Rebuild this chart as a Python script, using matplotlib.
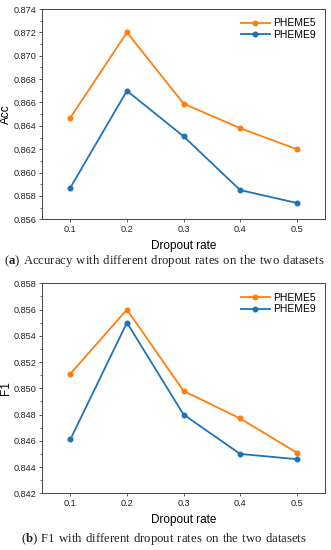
import matplotlib
matplotlib.use("Agg")
import matplotlib.pyplot as plt
from matplotlib.ticker import MultipleLocator, FormatStrFormatter

dropout = [0.1, 0.2, 0.3, 0.4, 0.5]
acc_pheme5 = [0.8647, 0.8720, 0.8659, 0.8638, 0.8620]
acc_pheme9 = [0.8587, 0.8670, 0.8631, 0.8585, 0.8574]
f1_pheme5 = [0.8511, 0.8560, 0.8498, 0.8477, 0.8451]
f1_pheme9 = [0.8461, 0.8550, 0.8480, 0.8450, 0.8446]
series_names = ["PHEME5", "PHEME9"]
captions = ["Accuracy with different dropout rates on the two datasets",
            "F1 with different dropout rates on the two datasets"]
cap_letters = ["a", "b"]

orange = "#FF7F0E"
blue = "#1F73B6"

plt.rcParams['font.family'] = ['Liberation Sans', 'DejaVu Sans']
plt.rcParams['mathtext.fontset'] = 'custom'
plt.rcParams['mathtext.bf'] = 'Liberation Serif:bold'
plt.rcParams['mathtext.rm'] = 'Liberation Serif'

fig = plt.figure(figsize=(3.31, 5.5), dpi=100)
ax1 = fig.add_axes([0.127, 0.6013, 0.855, 0.3823])
ax2 = fig.add_axes([0.127, 0.1031, 0.855, 0.3818])

def style(ax, ylim, ylabel):
    ax.set_xlim(0.05, 0.55)
    ax.set_ylim(*ylim)
    ax.set_xticks(dropout)
    ax.set_xticklabels([f"{d:.1f}" for d in dropout])
    ax.yaxis.set_major_locator(MultipleLocator(0.002))
    ax.yaxis.set_minor_locator(MultipleLocator(0.001))
    ax.yaxis.set_major_formatter(FormatStrFormatter('%.3f'))
    ax.tick_params(axis='both', which='major', labelsize=6.6, direction='out', length=2.5,
                   width=0.6, colors='#444444', labelcolor='#222222', pad=1.8)
    ax.tick_params(axis='y', which='minor', direction='out', length=1.6, width=0.6, colors='#444444')
    for s in ax.spines.values():
        s.set_linewidth(0.7)
        s.set_color('#444444')
    ax.set_xlabel("Dropout rate", fontsize=8.5)
    ax.xaxis.set_label_coords(0.5, -0.100)
    ax.set_ylabel(ylabel, fontsize=8.5)
    ax.yaxis.set_label_coords(-0.107, 0.5)
    ax.legend(frameon=False, fontsize=7.5, loc='upper right', handlelength=2.8,
              borderaxespad=0.5, labelspacing=0.15, handletextpad=0.3)

ax1.plot(dropout, acc_pheme5, color=orange, marker='o', ms=3.3, lw=1.3, label=series_names[0])
ax1.plot(dropout, acc_pheme9, color=blue, marker='o', ms=3.3, lw=1.3, label=series_names[1])
style(ax1, (0.856, 0.874), "Acc")

ax2.plot(dropout, f1_pheme5, color=orange, marker='o', ms=3.3, lw=1.3, label=series_names[0])
ax2.plot(dropout, f1_pheme9, color=blue, marker='o', ms=3.3, lw=1.3, label=series_names[1])
style(ax2, (0.842, 0.858), "F1")

for y, letter, cap in [(1 - 261/550, cap_letters[0], captions[0]), (1 - 539/550, cap_letters[1], captions[1])]:
    words = cap.replace(" ", "\\ ")
    fig.text(0.495, y, f"$(\\mathbf{{{letter}}})\\ \\mathrm{{{words}}}$", ha='center', va='center',
             fontsize=9.2, color='#222222')

fig.savefig("out.png", dpi=100)
